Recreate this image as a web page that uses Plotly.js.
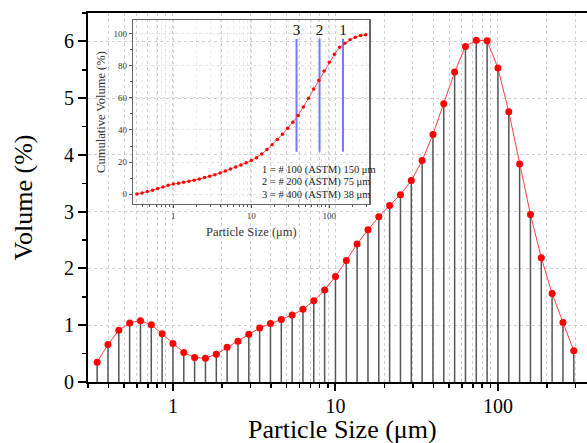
<!DOCTYPE html>
<html>
<head>
<meta charset="utf-8">
<script src="https://cdn.plot.ly/plotly-3.0.1.min.js"></script>
<style>
html,body{margin:0;padding:0;background:#fff;overflow:hidden;}
#chart{width:587px;height:443px;}
</style>
</head>
<body>
<div id="chart"></div>
<script>
// Particle size (µm) for each class
const sizes = [0.3415, 0.3981, 0.4642, 0.5412, 0.6310, 0.7356, 0.8577, 1.0, 1.166, 1.359,
  1.585, 1.848, 2.154, 2.512, 2.929, 3.415, 3.981, 4.642, 5.412, 6.310,
  7.356, 8.577, 10.0, 11.66, 13.59, 15.85, 18.48, 21.54, 25.12, 29.29,
  34.15, 39.81, 46.42, 54.12, 63.10, 73.56, 85.77, 100, 116.6, 135.9,
  158.5, 184.8, 215.4, 251.2, 292.9];
// Volume (%) per class
const volume = [0.35, 0.66, 0.91, 1.04, 1.08, 1.01, 0.85, 0.68, 0.52, 0.43,
  0.42, 0.49, 0.61, 0.72, 0.84, 0.95, 1.03, 1.10, 1.18, 1.28,
  1.43, 1.62, 1.86, 2.14, 2.43, 2.68, 2.91, 3.11, 3.30, 3.55,
  3.90, 4.36, 4.90, 5.46, 5.91, 6.02, 6.01, 5.53, 4.76, 3.84,
  2.95, 2.19, 1.56, 1.05, 0.55];
// Cumulative volume (%) shown in the inset
const cumulative = [0.2, 0.8, 1.7, 2.6, 3.6, 4.6, 5.6, 6.4, 6.9, 7.5,
  8.1, 8.7, 9.5, 10.4, 11.2, 12.2, 13.3, 14.5, 15.8, 17.0,
  18.3, 19.6, 21.0, 22.8, 25.0, 27.8, 30.8, 34.0, 37.3, 41.0,
  44.8, 48.9, 54.3, 59.7, 65.5, 70.9, 76.7, 82.1, 87.0, 91.4,
  93.9, 96.0, 97.6, 98.7, 99.1];
// Sieve marker lines
const sieveSizes = [150, 75, 38];
const sieveNums = ['1', '2', '3'];
const sieveText = ['1 = # 100 (ASTM) 150 μm', '2 = # 200 (ASTM) 75 μm', '3 = # 400 (ASTM) 38 μm'];
const sieveLineBottom = 26.5, sieveLineTop = 96.6, sieveLabelY = 101.5;

// axis tick labels
const xTickVals = [1, 10, 100];
const xTickText = ['1', '10', '100'];
const xTitle = 'Particle Size (μm)';

const serif = 'Liberation Serif, Times New Roman, serif';

function minorLogTicks(lo, hi) {
  const out = [];
  for (let d = Math.floor(Math.log10(lo)); d <= Math.ceil(Math.log10(hi)); d++) {
    for (let m = 2; m <= 9; m++) {
      const v = m * Math.pow(10, d);
      if (v >= lo && v <= hi) out.push(v);
    }
  }
  return out;
}
const minorMain = minorLogTicks(0.3, 400);

// drop lines built from the data
const dropX = [], dropY = [];
sizes.forEach((s, i) => { dropX.push(s, s, null); dropY.push(0, volume[i], null); });
const sieveX = [], sieveY = [];
sieveSizes.forEach(s => { sieveX.push(s, s, null); sieveY.push(sieveLineBottom, sieveLineTop, null); });

const traces = [
  {x: dropX, y: dropY, mode: 'lines', line: {color: '#555', width: 1.5}, hoverinfo: 'skip', xaxis: 'x', yaxis: 'y'},
  {x: sizes, y: volume, mode: 'lines+markers', line: {color: '#ff4040', width: 1},
   marker: {color: '#ff0000', size: 7}, xaxis: 'x', yaxis: 'y'},
  {x: sieveX, y: sieveY, mode: 'lines', line: {color: '#7878ff', width: 2}, xaxis: 'x2', yaxis: 'y2', hoverinfo: 'skip'},
  {x: sieveSizes, y: sieveSizes.map(() => sieveLabelY), mode: 'text', text: sieveNums,
   textfont: {family: serif, size: 15, color: '#111'}, textposition: 'middle center', xaxis: 'x2', yaxis: 'y2', hoverinfo: 'skip'},
  {x: sizes, y: cumulative, mode: 'lines+markers', line: {color: '#ff5050', width: 1},
   marker: {color: '#ff0000', size: 3.5}, xaxis: 'x2', yaxis: 'y2'}
];

const gridC = '#cfcfcf';
const annotations = sieveText.map((t, i) => ({
  text: t, xref: 'paper', yref: 'paper', x: 0.3447, y: 0.5745 - i * 0.0338,
  xanchor: 'left', yanchor: 'middle', showarrow: false,
  font: {family: serif, size: 10.5, color: '#222'}
}));
annotations.push({
  text: xTitle, xref: 'paper', yref: 'paper', x: 0.51, y: -0.129,
  xanchor: 'center', yanchor: 'middle', showarrow: false,
  font: {family: serif, size: 26, color: '#000'}
});

const layout = {
  width: 587, height: 443,
  margin: {l: 88, r: 0, t: 13, b: 61},
  paper_bgcolor: '#fff', plot_bgcolor: 'rgba(0,0,0,0)',
  showlegend: false,
  font: {family: serif, color: '#000'},
  xaxis: {
    type: 'log', range: [Math.log10(0.3), 2.548], domain: [0, 1],
    tickmode: 'array', tickvals: xTickVals, ticktext: xTickText,
    ticks: 'outside', ticklen: 7, tickwidth: 2, tickcolor: '#000', ticklabelstandoff: -2,
    showline: true, linecolor: '#000', linewidth: 2, mirror: true,
    showgrid: true, gridcolor: gridC, griddash: 'dot', gridwidth: 1,
    zeroline: false,
    tickfont: {family: serif, size: 20, color: '#000'},
    minor: {tickmode: 'array', tickvals: minorMain, ticks: 'outside', ticklen: 4, tickwidth: 1.5, tickcolor: '#000',
            showgrid: true, gridcolor: gridC, griddash: 'dot', gridwidth: 1}
  },
  yaxis: {
    range: [0, 6.5], domain: [0, 1], dtick: 1, tick0: 0,
    ticks: 'outside', ticklen: 8, tickwidth: 2, tickcolor: '#000',
    showline: true, linecolor: '#000', linewidth: 2,
    showgrid: true, gridcolor: gridC, griddash: 'dot', gridwidth: 1,
    zeroline: false,
    tickfont: {family: serif, size: 20, color: '#000'},
    minor: {dtick: 0.5, ticks: 'outside', ticklen: 4, tickwidth: 1.5, tickcolor: '#000', showgrid: false},
    title: {text: 'Volume (%)', font: {family: serif, size: 26, color: '#000'}, standoff: 24}
  },
  xaxis2: {
    type: 'log', range: [-0.513, 2.513], domain: [0.0908, 0.5637], anchor: 'y2',
    tickmode: 'array', tickvals: xTickVals, ticktext: xTickText,
    ticks: 'outside', ticklen: 3, tickwidth: 1, tickcolor: '#555',
    showline: true, linecolor: '#666', linewidth: 1.5, mirror: true,
    showgrid: true, gridcolor: '#dedede', griddash: 'dot', gridwidth: 1,
    zeroline: false,
    tickfont: {family: serif, size: 9, color: '#333'},
    minor: {tickmode: 'array', tickvals: minorMain, ticks: 'outside', ticklen: 2, tickwidth: 1, tickcolor: '#555',
            showgrid: true, gridcolor: '#ececec', griddash: 'dot'},
    title: {text: 'Particle Size (μm)', font: {family: serif, size: 12.5, color: '#333'}, standoff: 7}
  },
  yaxis2: {
    range: [-6, 108.3], domain: [0.4824, 0.981], anchor: 'x2', dtick: 20, tick0: 0,
    ticks: 'outside', ticklen: 3, tickwidth: 1, tickcolor: '#555',
    showline: true, linecolor: '#666', linewidth: 1.5, mirror: true,
    showgrid: true, gridcolor: '#e4e4e4', griddash: 'dot', gridwidth: 1,
    zeroline: false,
    tickfont: {family: serif, size: 9, color: '#333'},
    minor: {dtick: 10, ticks: 'outside', ticklen: 2, tickwidth: 1, tickcolor: '#555', showgrid: false},
    title: {text: 'Cumulative Volume (%)', font: {family: serif, size: 12.5, color: '#333'}, standoff: 5}
  },
  annotations: annotations
};

Plotly.newPlot('chart', traces, layout, {displayModeBar: false, staticPlot: true});
</script>
</body>
</html>
